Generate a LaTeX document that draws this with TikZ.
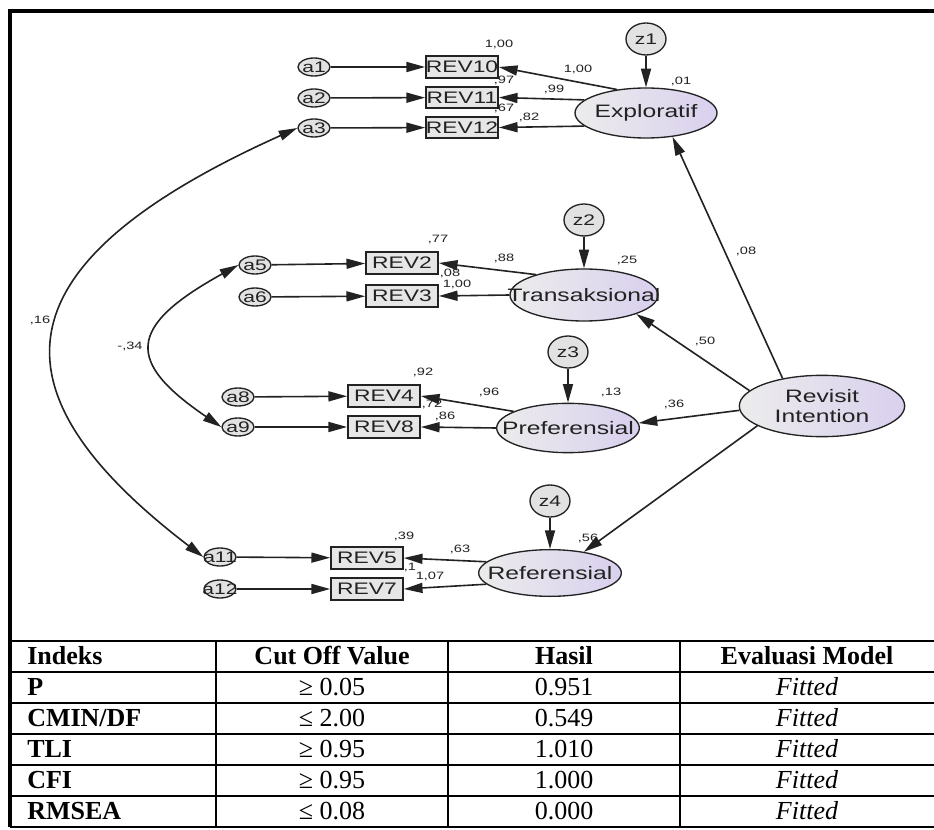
\documentclass[tikz,border=0pt]{standalone}
\usepackage{fontspec}
\setmainfont{Liberation Serif}
\newfontfamily\dg[FakeStretch=1.37]{Liberation Sans}
\usetikzlibrary{arrows.meta,shapes.geometric}
\definecolor{ink}{HTML}{222222}
\definecolor{latL}{HTML}{ECECEC}
\definecolor{latR}{HTML}{D9D0EE}
\definecolor{boxfill}{HTML}{E6E6E6}
\definecolor{errfill}{HTML}{E2E2E2}
\begin{document}
\begin{tikzpicture}[x=0.75pt,y=-0.75pt,
  lat/.style={ellipse, draw=ink, line width=1pt, inner sep=0pt, left color=latL, right color=latR},
  lattext/.style={font=\dg\fontsize{13.5}{15}\selectfont, text=ink, inner sep=0pt, align=center},
  manifest/.style={rectangle, draw=ink, line width=1.3pt, fill=boxfill, inner sep=0pt, minimum width=54pt, minimum height=16pt},
  revtext/.style={font=\dg\fontsize{12.5}{14}\selectfont, text=ink, inner sep=0pt},
  smalltext/.style={font=\dg\fontsize{11.5}{13}\selectfont, text=ink, inner sep=0pt},
  errc/.style={ellipse, draw=ink, line width=1pt, fill=errfill, inner sep=0pt, minimum width=24pt, minimum height=13.5pt},
  distc/.style={ellipse, draw=ink, line width=1pt, fill=errfill, inner sep=0pt, minimum width=30pt, minimum height=24pt},
  lab/.style={font=\dg\fontsize{8}{9}\selectfont, text=ink, inner sep=0pt},
  arr/.style={-{Triangle[length=14pt,width=7.5pt]}, line width=1.2pt, draw=ink},
  dbl/.style={{Triangle[length=14pt,width=7.5pt]}-{Triangle[length=14pt,width=7.5pt]}, line width=1.2pt, draw=ink},
  th/.style={font=\fontsize{19.5}{21}\selectfont\bfseries, inner sep=0pt},
  td/.style={font=\fontsize{19.5}{21}\selectfont, inner sep=0pt},
  ti/.style={font=\fontsize{19.5}{21}\selectfont\itshape, inner sep=0pt},
  grid/.style={line width=1.6pt, draw=black},
  frame/.style={line width=2.3pt, draw=black}]
\useasboundingbox (0,0) rectangle (934,830);
\clip (0,0) rectangle (934,830);
\fill[white] (0,0) rectangle (934,830);

% partially hidden labels (drawn first)
\node[lab] (h1) at (504,80) {,97};
\node[lab] (h2) at (504,108) {,67};
\node[lab] (h3) at (450,273) {,08};
\node[lab] (h4) at (432,404) {,72};
\node[lab] (h5) at (410,568) {,1};

% Exploratif group
\node[errc, label={[smalltext]center:a1}] (a1) at (314,67) {};
\node[errc, label={[smalltext]center:a2}] (a2) at (314,98) {};
\node[errc, label={[smalltext]center:a3}] (a3) at (314,128) {};
\node[manifest, label={[revtext]center:REV10}] (REV10) at (462,67) {};
\node[manifest, label={[revtext]center:REV11}] (REV11) at (462,97.5) {};
\node[manifest, label={[revtext]center:REV12}] (REV12) at (462,127.5) {};
\node[lat, minimum width=106.5pt, minimum height=37.5pt, label={[lattext]center:Exploratif}] (Ex) at (646,113) {};
\node[distc, label={[smalltext]center:z1}] (z1) at (646,39) {};

% Transaksional group
\node[errc, label={[smalltext]center:a5}] (a5) at (255,265) {};
\node[errc, label={[smalltext]center:a6}] (a6) at (255,297) {};
\node[manifest, label={[revtext]center:REV2}] (REV2) at (402,263) {};
\node[manifest, label={[revtext]center:REV3}] (REV3) at (402,296) {};
\node[lat, minimum width=111pt, minimum height=39pt, label={[lattext]center:Transaksional}] (Tr) at (584,295) {};
\node[distc, label={[smalltext]center:z2}] (z2) at (584,220) {};

% Preferensial group
\node[errc, label={[smalltext]center:a8}] (a8) at (238,397) {};
\node[errc, label={[smalltext]center:a9}] (a9) at (238,427) {};
\node[manifest, label={[revtext]center:REV4}] (REV4) at (384,396) {};
\node[manifest, label={[revtext]center:REV8}] (REV8) at (384,427) {};
\node[lat, minimum width=107pt, minimum height=37pt, label={[lattext]center:Preferensial}] (Pf) at (568,428) {};
\node[distc, label={[smalltext]center:z3}] (z3) at (568,352) {};

% Referensial group
\node[errc, label={[smalltext]center:a11}] (a11) at (220,557) {};
\node[errc, label={[smalltext]center:a12}] (a12) at (220,589) {};
\node[manifest, label={[revtext]center:REV5}] (REV5) at (367,558) {};
\node[manifest, label={[revtext]center:REV7}] (REV7) at (367,589) {};
\node[lat, minimum width=107pt, minimum height=35pt, label={[lattext]center:Referensial}] (Rf) at (550,573) {};
\node[distc, label={[smalltext]center:z4}] (z4) at (550,501) {};

% Revisit Intention
\node[lat, minimum width=124pt, minimum height=46pt, label={[lattext]center:Revisit\\Intention}] (RI) at (822,406) {};

% error arrows
\foreach \e/\m in {a1/REV10,a2/REV11,a3/REV12,a5/REV2,a6/REV3,a8/REV4,a9/REV8,a11/REV5,a12/REV7}
  \draw[arr] (\e) -- (\m);
% disturbance arrows
\foreach \z/\l in {z1/Ex,z2/Tr,z3/Pf,z4/Rf}
  \draw[arr] (\z) -- (\l);
% loadings
\draw[arr] (Ex.141) -- (REV10.east);
\draw[arr] (Ex.168) -- (REV11.east);
\draw[arr] (Ex.192) -- (REV12.east);
\draw[arr] (Tr.157) -- (REV2.east);
\draw[arr] (Tr.180) -- (REV3.east);
\draw[arr] (Pf.163) -- (REV4.east);
\draw[arr] (Pf.180) -- (REV8.east);
\draw[arr] (Rf.170) -- (REV5.east);
\draw[arr] (Rf.190) -- (REV7.east);
% structural paths
\draw[arr] (RI.145) -- (Ex.-42);
\draw[arr] (RI.168) -- (Tr.-20);
\draw[arr] (RI.183) -- (Pf.4);
\draw[arr] (RI.197) -- (Rf.32);
% covariances
\draw[dbl] (a3.west) .. controls (-10,266) and (-10,394) .. (a11.west);
\draw[dbl] (a5.west) .. controls (126,327) and (126,362) .. (a9.west);

% estimates
\node[lab] (l1) at (499,44) {1,00};
\node[lab] (l2) at (578,69) {1,00};
\node[lab] (l3) at (554,89) {,99};
\node[lab] (l4) at (529,117) {,82};
\node[lab] (l5) at (681,81) {,01};
\node[lab] (l6) at (438,240) {,77};
\node[lab] (l7) at (504,258) {,88};
\node[lab] (l8) at (627,260) {,25};
\node[lab] (l9) at (457,284) {1,00};
\node[lab] (l10) at (423,372) {,92};
\node[lab] (l11) at (489,392) {,96};
\node[lab] (l12) at (445,416) {,86};
\node[lab] (l13) at (611,392) {,13};
\node[lab] (l14) at (674,404) {,36};
\node[lab] (l15) at (705,341) {,50};
\node[lab] (l16) at (746,251) {,08};
\node[lab] (l17) at (404,536) {,39};
\node[lab] (l18) at (460,549) {,63};
\node[lab] (l19) at (430,576) {1,07};
\node[lab] (l20) at (588,538) {,56};
\node[lab] (l21) at (40,320) {,16};
\node[lab] (l22) at (130,346) {-,34};

% table
\foreach \y in {641,672,703,734,765,796,827}
  \draw[grid] (10,\y) -- (937,\y);
\foreach \x in {216,448,680}
  \draw[grid] (\x,641) -- (\x,827);
\draw[frame] (10,827) -- (10,11) -- (937,11) -- (937,827);

\node[th, anchor=base west] (h-ind) at (27,664) {Indeks};
\node[th, anchor=base] (h-cut) at (332,664) {Cut Off Value};
\node[th, anchor=base] (h-has) at (564,664) {Hasil};
\node[th, anchor=base] (h-eva) at (807,664) {Evaluasi Model};

\foreach \i/\a/\b/\c [count=\k from 0] in {P/{≥ 0.05}/0.951/Fitted, {CMIN/DF}/{≤ 2.00}/0.549/Fitted, TLI/{≥ 0.95}/1.010/Fitted, CFI/{≥ 0.95}/1.000/Fitted, RMSEA/{≤ 0.08}/0.000/Fitted}{
  \pgfmathsetmacro{\yy}{695+31*\k}
  \node[th, anchor=base west] (r\k-a) at (27,\yy) {\i};
  \node[td, anchor=base] (r\k-b) at (332,\yy) {\a};
  \node[td, anchor=base] (r\k-c) at (564,\yy) {\b};
  \node[ti, anchor=base] (r\k-d) at (807,\yy) {\c};
}
\end{tikzpicture}
\end{document}
